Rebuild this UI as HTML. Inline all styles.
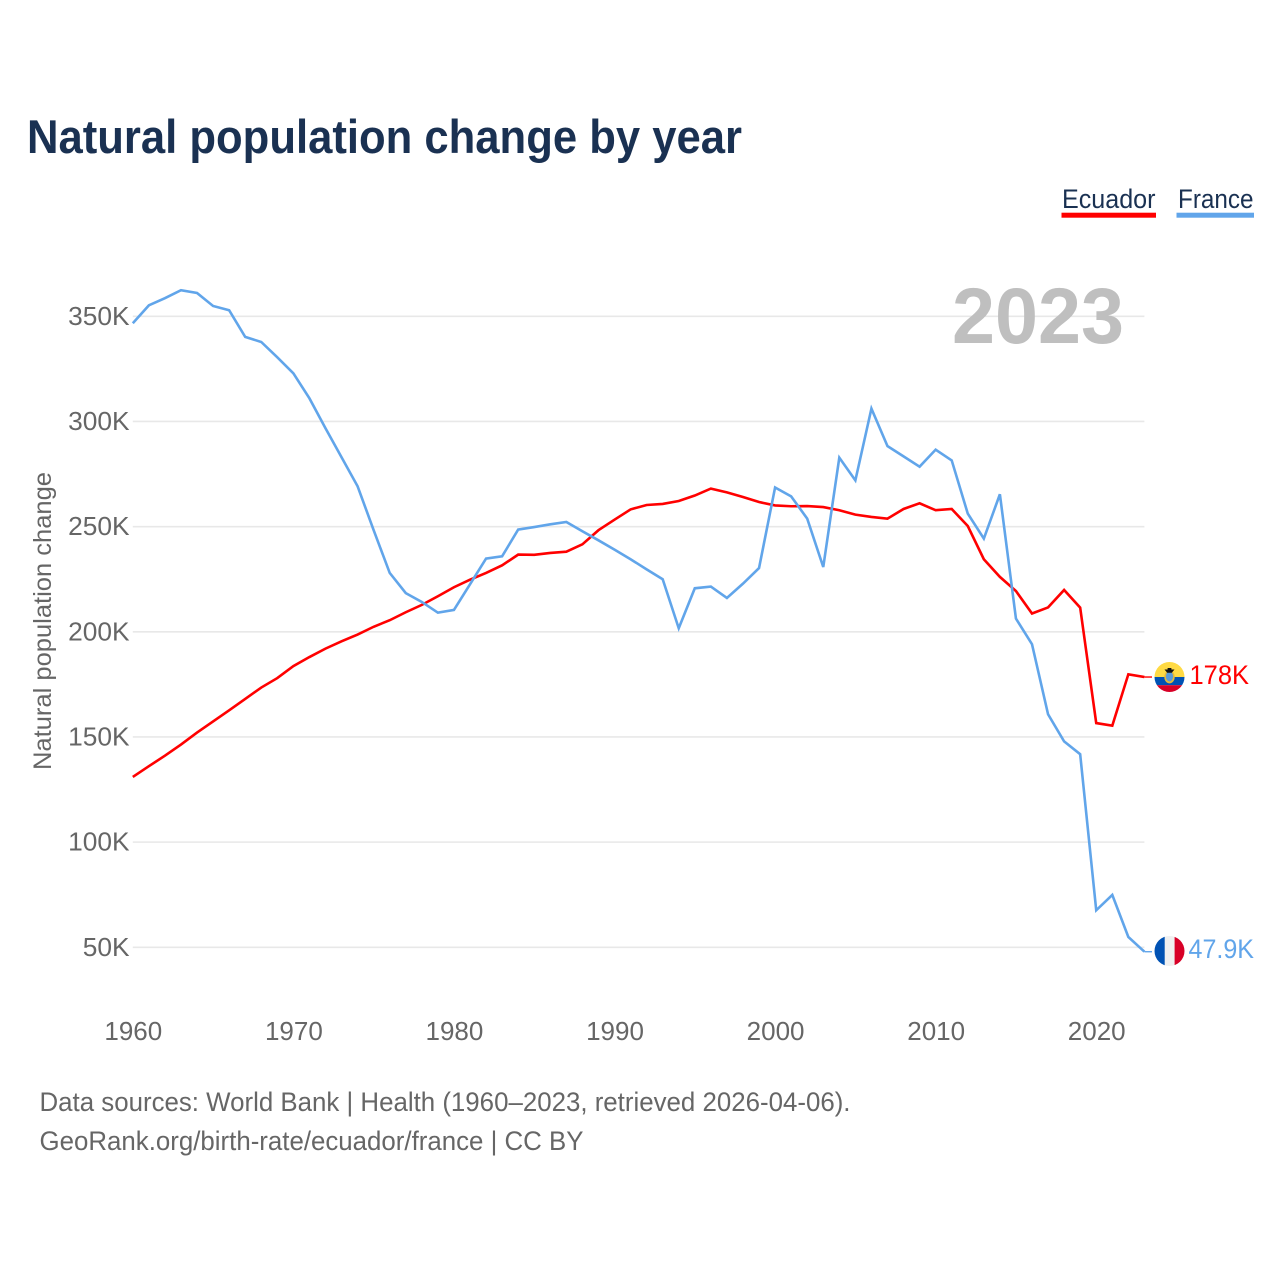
<!DOCTYPE html>
<html lang="en">
<head>
<meta charset="utf-8">
<title>Natural population change by year</title>
<style>
html,body{margin:0;padding:0;background:#fff;width:1280px;height:1280px;overflow:hidden}
svg{display:block;font-family:"Liberation Sans",sans-serif}
</style>
</head>
<body>
<svg id="chart" xmlns="http://www.w3.org/2000/svg" width="1280" height="1280" viewBox="0 0 1280 1280">
  <rect x="0" y="0" width="1280" height="1280" fill="#ffffff"/>
  <text x="27" y="153" font-size="47" font-weight="700" fill="#1a3152" textLength="715" lengthAdjust="spacingAndGlyphs">Natural population change by year</text>

  <g>
    <g>
      <text x="1062" y="208" font-size="27" fill="#1a3152" textLength="93.5" lengthAdjust="spacingAndGlyphs">Ecuador</text>
      <rect x="1061.5" y="212.7" width="94.5" height="5" fill="#ff0000"/>
    </g>
    <g>
      <text x="1178" y="208" font-size="27" fill="#1a3152" textLength="75.5" lengthAdjust="spacingAndGlyphs">France</text>
      <rect x="1176.5" y="212.7" width="77.5" height="5" fill="#61a5ea"/>
    </g>
  </g>

  <g id="grid"></g>
  <g id="yticks"></g>
  <g id="xticks"></g>

  <text x="952" y="343" font-size="79" font-weight="700" fill="#bfbfbf" textLength="172" lengthAdjust="spacingAndGlyphs">2023</text>

  <text transform="translate(51,621) rotate(-90)" text-anchor="middle" font-size="25" fill="#666666" textLength="298" lengthAdjust="spacingAndGlyphs">Natural population change</text>

  <g id="series"></g>

  <g id="flag-ecuador">
    <clipPath id="clip-ec"><circle cx="1169.5" cy="677" r="15"/></clipPath>
    <g clip-path="url(#clip-ec)">
      <rect x="1154" y="661" width="31" height="16" fill="#ffda44"/>
      <rect x="1154" y="677" width="31" height="8.2" fill="#0052b4"/>
      <rect x="1154" y="685.2" width="31" height="8" fill="#d80027"/>
      <ellipse cx="1169.5" cy="677" rx="5.2" ry="6.4" fill="#e2b93b"/>
      <ellipse cx="1169.5" cy="676.5" rx="3.6" ry="5" fill="#5b9bd8"/>
      <path d="M1164.5 669.5 L1174.5 669.5 L1171.8 672.8 L1167.2 672.8 Z M1167.6 668 L1171.4 668 L1171.4 671 L1167.6 671 Z" fill="#111111"/>
    </g>
  </g>
  <g id="flag-france">
    <clipPath id="clip-fr"><circle cx="1169.5" cy="951" r="15"/></clipPath>
    <g clip-path="url(#clip-fr)">
      <rect x="1154" y="935" width="11" height="32" fill="#0052b4"/>
      <rect x="1164.7" y="935" width="10" height="32" fill="#f0f0f0"/>
      <rect x="1174.6" y="935" width="11" height="32" fill="#d80027"/>
    </g>
  </g>

  <text id="value-ecuador" x="1189.5" y="684" font-size="27" fill="#ff0000" textLength="59.5" lengthAdjust="spacingAndGlyphs">178K</text>
  <text id="value-france" x="1188.5" y="958" font-size="27" fill="#61a5ea" textLength="65.5" lengthAdjust="spacingAndGlyphs">47.9K</text>

  <text x="39.5" y="1111" font-size="27" fill="#666666" textLength="811" lengthAdjust="spacingAndGlyphs">Data sources: World Bank | Health (1960–2023, retrieved 2026-04-06).</text>
  <text x="39.5" y="1150" font-size="27" fill="#666666" textLength="544" lengthAdjust="spacingAndGlyphs">GeoRank.org/birth-rate/ecuador/france | CC BY</text>
</svg>
<script>
var years = [];
for (var yr = 1960; yr <= 2023; yr++) years.push(yr);
var xTickYears = [1960, 1970, 1980, 1990, 2000, 2010, 2020];
var yTickValues = [50, 100, 150, 200, 250, 300, 350];
var yTickLabels = ['50K', '100K', '150K', '200K', '250K', '300K', '350K'];
var ecuadorValues = [131,136.1,141.1,146.4,152.1,157.4,162.7,168.1,173.5,178,183.7,188,192,195.5,198.7,202.4,205.5,209.3,212.8,216.9,221.2,224.8,228,231.6,236.7,236.6,237.5,238.1,241.6,248.3,253.3,258.2,260.3,260.8,262.2,264.8,268.1,266.3,264.1,261.7,260.1,259.7,259.8,259.3,257.8,255.7,254.6,253.8,258.4,261.1,257.8,258.4,250.3,234.5,226.1,219.4,208.7,211.6,219.9,211.5,156.6,155.4,179.8,178.5];
var franceValues = [346.7,355.2,358.6,362.4,361.1,354.9,352.9,340.2,337.8,330.5,322.9,311,296.8,283,269.2,248.3,228,218.4,214.2,209.1,210.4,222.6,234.8,235.9,248.6,249.8,251.1,252.2,247.8,243.5,239.1,234.5,229.7,225,201.7,220.7,221.5,216.1,222.9,230.3,268.6,264.4,253.8,230.8,282.8,272,306.1,288.3,283.4,278.5,286.6,281.5,256.2,244.3,265.4,206.3,194.1,160.8,147.9,141.8,67.6,74.9,54.9,47.9];

var NS = 'http://www.w3.org/2000/svg';
var plotLeft = 132.8, plotRight = 1144.4;
function xScale(year) { return plotLeft + (year - 1960) * (plotRight - plotLeft) / 63; }
function yScale(value) { return 947.3 - (value - 50) * 2.1033; }
function make(tag, parent, attrs) {
  var el = document.createElementNS(NS, tag);
  for (var k in attrs) el.setAttribute(k, attrs[k]);
  parent.appendChild(el);
  return el;
}

var gridGroup = document.getElementById('grid');
var yGroup = document.getElementById('yticks');
yTickValues.forEach(function (v, i) {
  var line = make('line', gridGroup, {x1: plotLeft, x2: plotRight, y1: yScale(v), y2: yScale(v), stroke: '#e8e8e8', 'stroke-width': 1.6});
  
  
  var t = make('text', yGroup, {x: 129.5, y: yScale(v) + 8.5, 'text-anchor': 'end', 'font-size': 26.3, fill: '#666666'});
  
  
  t.textContent = yTickLabels[i];
});

var xGroup = document.getElementById('xticks');
xTickYears.forEach(function (y) {
  var t = make('text', xGroup, {x: xScale(y) + 0.5, y: 1040, 'text-anchor': 'middle', 'font-size': 26, fill: '#666666'});
  
  
  t.textContent = String(y);
});

function drawSeries(name, values, color) {
  var group = document.getElementById('series');
  var pts = values.map(function (v, i) { return xScale(years[i]).toFixed(2) + ',' + yScale(v).toFixed(2); }).join(' ');
  var line = make('polyline', group, {points: pts, fill: 'none', stroke: color, 'stroke-width': 2.6, 'stroke-linejoin': 'miter'});
  
  
  var lastY = yScale(values[values.length - 1]);
  var conn = make('line', group, {x1: plotRight, x2: 1152, y1: lastY, y2: lastY, stroke: color, 'stroke-width': 1.4});
  
  
}
drawSeries('ecuador', ecuadorValues, '#ff0000');
drawSeries('france', franceValues, '#61a5ea');
</script>
</body>
</html>
